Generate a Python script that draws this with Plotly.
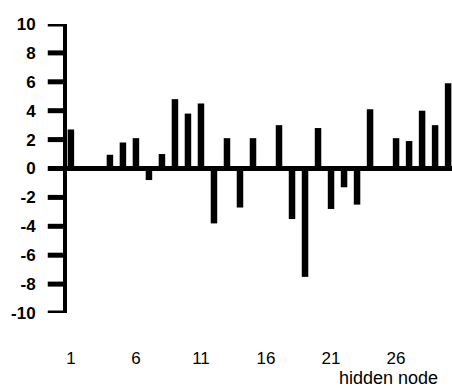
import plotly.graph_objects as go

nodes = list(range(1, 31))
weights = [2.7, 0.0, 0.15, 0.95, 1.8, 2.1, -0.8, 1.0, 4.8, 3.8,
           4.5, -3.8, 2.1, -2.7, 2.1, 0.0, 3.0, -3.5, -7.5, 2.8,
           -2.8, -1.3, -2.5, 4.1, 0.0, 2.1, 1.9, 4.0, 3.0, 5.9]
x_ticks = [1, 6, 11, 16, 21, 26]
y_ticks = [10, 8, 6, 4, 2, 0, -2, -4, -6, -8, -10]
x_label = "hidden node"

fig = go.Figure()
fig.add_trace(go.Bar(x=nodes, y=weights, width=0.5,
                     marker=dict(color="black", line=dict(width=0))))

fam = "Liberation Sans, Arial, sans-serif"
xfont = dict(family=fam, size=17, color="black")
yfont = dict(family=fam, size=17, color="black", weight="bold")

# heavy tick marks drawn at the y tick values
for v in y_ticks:
    fig.add_shape(type="line", xref="paper", yref="y", x0=-0.05, x1=0, y0=v, y1=v,
                  line=dict(color="black", width=5), layer="above")

fig.update_layout(
    width=452, height=388,
    margin=dict(l=67, r=0, t=24, b=75),
    plot_bgcolor="white", paper_bgcolor="white",
    showlegend=False,
    xaxis=dict(range=[0.7, 30.3], tickvals=x_ticks, ticktext=[str(v) for v in x_ticks],
               showgrid=False, zeroline=False, showline=False,
               ticks="outside", ticklen=30, tickcolor="rgba(0,0,0,0)",
               tickfont=xfont),
    yaxis=dict(range=[-10, 10], tickvals=y_ticks, ticktext=[str(v) for v in y_ticks],
               showgrid=False, zeroline=True, zerolinecolor="black", zerolinewidth=5,
               showline=True, linecolor="black", linewidth=4,
               ticks="outside", ticklen=20, tickwidth=1, tickcolor="rgba(0,0,0,0)",
               ticklabelstandoff=4, tickfont=yfont),
    annotations=[dict(text=x_label, xref="paper", yref="paper",
                      x=0.834, y=-0.225, showarrow=False, xanchor="center",
                      yanchor="middle", font=dict(family=fam, size=18, color="black"))],
)

fig.write_html("out.html")
